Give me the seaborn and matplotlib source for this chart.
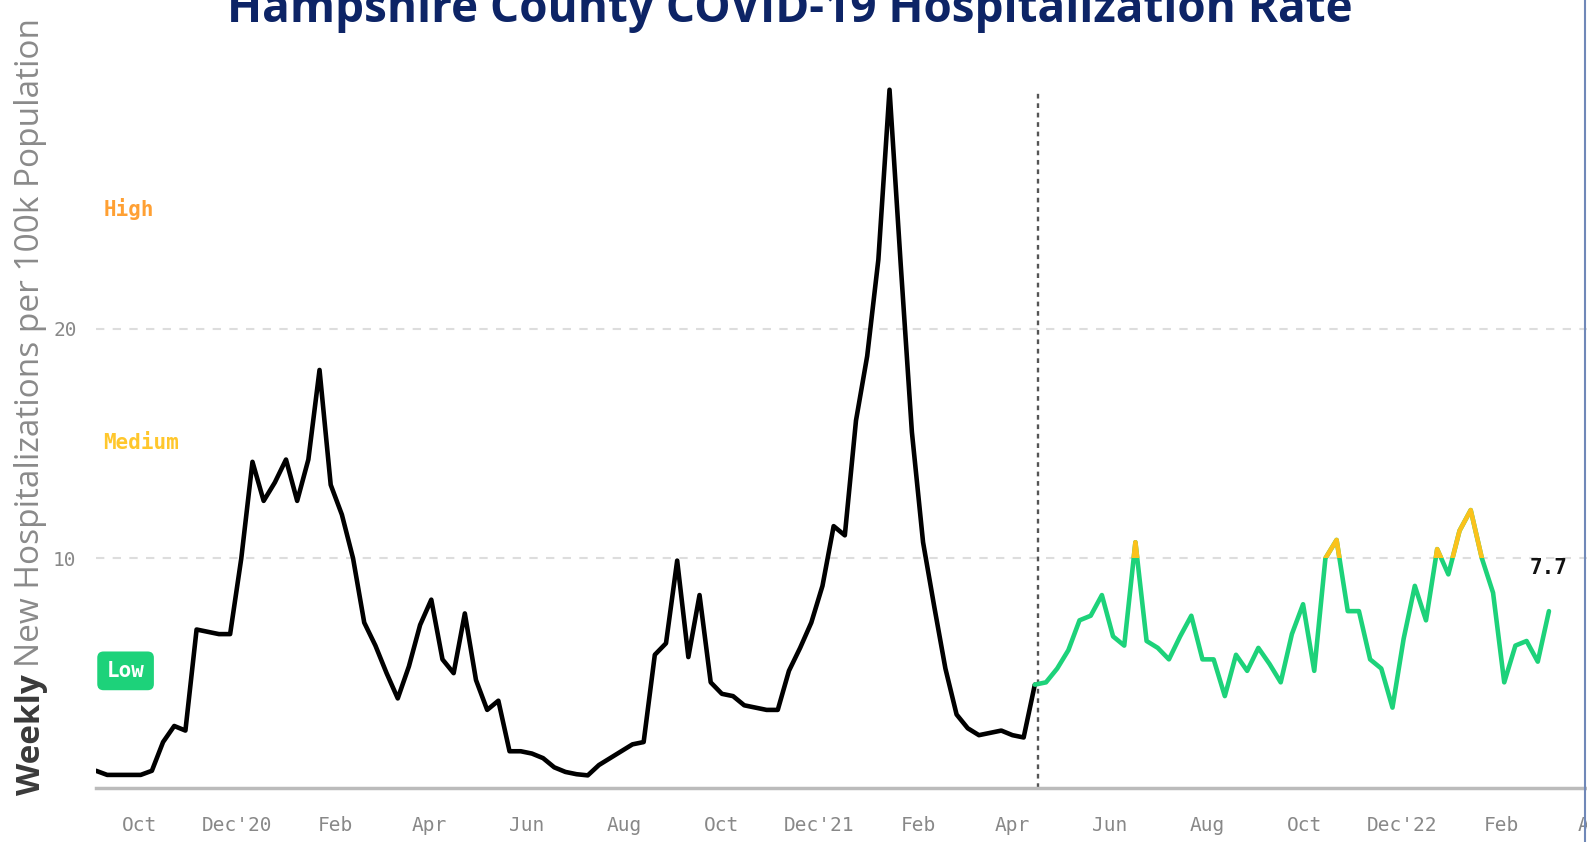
import matplotlib
matplotlib.use("Agg")
import matplotlib.pyplot as plt
from matplotlib.patches import Rectangle
from matplotlib.lines import Line2D
import seaborn as sns
import pandas as pd

# --- data --------------------------------------------------------------
title = "Hampshire County COVID-19 Hospitalization Rate"
start_date = "2020-09-04"
cutoff_date = "2022-04-17"
cutoff_index = 84          # last weekly point of the historical (black) part
threshold = 10             # above this the recent line turns yellow

# weekly new hospitalizations per 100k
rate = [
    0.75, 0.57, 0.57, 0.57, 0.57, 0.75, 2.0, 2.7, 2.5, 6.9,
    6.8, 6.7, 6.7, 10.0, 14.2, 12.5, 13.3, 14.3, 12.5, 14.3,
    18.2, 13.2, 11.9, 10.0, 7.2, 6.2, 5.0, 3.9, 5.3, 7.1,
    8.2, 5.6, 5.0, 7.6, 4.7, 3.4, 3.8, 1.6, 1.6, 1.5,
    1.3, 0.9, 0.7, 0.6, 0.55, 1.0, 1.3, 1.6, 1.9, 2.0,
    5.8, 6.3, 9.9, 5.7, 8.4, 4.6, 4.1, 4.0, 3.6, 3.5,
    3.4, 3.4, 5.1, 6.1, 7.2, 8.8, 11.4, 11.0, 16.0, 18.8,
    23.0, 30.4, 22.8, 15.5, 10.7, 7.9, 5.2, 3.2, 2.6, 2.3,
    2.4, 2.5, 2.3, 2.2, 4.5,
    4.6, 5.2, 6.0, 7.3, 7.5, 8.4, 6.6, 6.2, 10.7, 6.4,
    6.1, 5.6, 6.6, 7.5, 5.6, 5.6, 4.0, 5.8, 5.1, 6.1,
    5.4, 4.6, 6.7, 8.0, 5.1, 10.0, 10.8, 7.7, 7.7, 5.6,
    5.2, 3.5, 6.5, 8.8, 7.3, 10.4, 9.3, 11.2, 12.1, 10.0,
    8.5, 4.6, 6.2, 6.4, 5.5, 7.7,
]
dates = pd.date_range(start_date, periods=len(rate), freq="7D")

tick_dates = pd.date_range("2020-10-01", "2023-04-01", freq="2MS")
tick_labels = ["Oct", "Dec'20", "Feb", "Apr", "Jun", "Aug", "Oct", "Dec'21",
               "Feb", "Apr", "Jun", "Aug", "Oct", "Dec'22", "Feb", "Apr"]
y_ticks = [10, 20]

level_names = ["High", "Medium", "Low"]
level_y = [25.2, 15.0, 5.1]
level_colors = ["#ffa033", "#ffc72c", "#1dd27a"]

# --- styles -------------------------------------------------------------
sns.set_style("white")
plt.rcParams["font.family"] = ["Open Sans", "DejaVu Sans"]
mono = "DejaVu Sans Mono"
green = "#1dd27a"
yellow = "#fbc21b"

W, H = 1587, 842
fig = plt.figure(figsize=(W / 100, H / 100), dpi=100)
ax = fig.add_axes([96 / W, 54 / H, (1616 - 96) / W, 758 / H])

hist = pd.DataFrame({"date": dates[:cutoff_index + 1], "rate": rate[:cutoff_index + 1]})
recent = pd.DataFrame({"date": dates[cutoff_index:], "rate": rate[cutoff_index:]})

sns.lineplot(data=hist, x="date", y="rate", ax=ax, color="black", lw=3.3,
             solid_joinstyle="round", solid_capstyle="round")
sns.lineplot(data=recent, x="date", y="rate", ax=ax, color=green, lw=3.3,
             solid_joinstyle="round", solid_capstyle="round")
sns.lineplot(data=recent, x="date", y="rate", ax=ax, color=yellow, lw=3.3,
             solid_joinstyle="round", solid_capstyle="round")
ylw = ax.lines[-1]
clip = Rectangle((0, threshold), 1e6, 1000, transform=ax.transData)
ylw.set_clip_path(clip)

ax.set_xlim(pd.Timestamp(start_date), pd.Timestamp("2023-04-14"))
ax.set_ylim(0, 33)

ax.vlines(pd.Timestamp(cutoff_date), 0, max(rate), colors="#555555",
          linestyles=(0, (2, 2)), lw=1.7, zorder=1)

# axes cosmetics
ax.set_xticks(tick_dates)
ax.set_xticklabels(tick_labels)
ax.set_yticks(y_ticks)
ax.set_xlabel("")
ax.set_ylabel("")
ax.grid(axis="y", color="#dddddd", lw=1.5, linestyle=(0, (4, 4)))
ax.grid(axis="x", visible=False)
for s in ["top", "right", "left"]:
    ax.spines[s].set_visible(False)
ax.spines["bottom"].set_color("#bbbbbb")
ax.spines["bottom"].set_linewidth(2.5)
ax.tick_params(axis="x", length=12, width=1.5, color="#aaaaaa", pad=8,
               labelsize=14, labelcolor="#888888")
ax.tick_params(axis="y", length=0, pad=14, labelsize=14, labelcolor="#888888")
for lbl in ax.get_xticklabels() + ax.get_yticklabels():
    lbl.set_fontfamily(mono)

# level labels
ytr = ax.get_yaxis_transform()
for name, yv, col in zip(level_names, level_y, level_colors):
    if name == "Low":
        ax.text(0.007, yv, name, transform=ytr, color="white", fontsize=15,
                fontweight="bold", family=mono, va="center", ha="left",
                bbox=dict(boxstyle="round,pad=0.45,rounding_size=0.3",
                          fc=col, ec="none"))
    else:
        ax.text(0.005, yv, name, transform=ytr, color=col, fontsize=15,
                fontweight="bold", family=mono, va="center", ha="left")

# last value
ax.annotate(f"{rate[-1]:.1f}", xy=(dates[-1], rate[-1]), xytext=(0, 31),
            textcoords="offset points", ha="center", va="center",
            fontsize=15, fontweight="bold", family=mono, color="#111111")

# title (cropped at top like the source)
fig.text(0.4975, 1 - 22 / H, title, ha="center", va="baseline", fontsize=33,
         fontweight="bold", color="#0d2466")

# two-part y label
t1 = fig.text(31 / W, 1 - 795 / H, "Weekly", rotation=90, ha="center",
              va="bottom", fontsize=24, fontweight="bold", color="#3a3a3a")
fig.canvas.draw()
bb = t1.get_window_extent()
fig.text(31 / W, (bb.y1 + 7) / H, "New Hospitalizations per 100k Population",
         rotation=90, ha="center", va="bottom", fontsize=24, color="#8a8a8a")

# thin frame line at right edge
fig.add_artist(Line2D([1585 / W, 1585 / W], [0, 1], transform=fig.transFigure,
                      color="#7088b8", lw=1.5))

fig.savefig("out.png", dpi=100)
